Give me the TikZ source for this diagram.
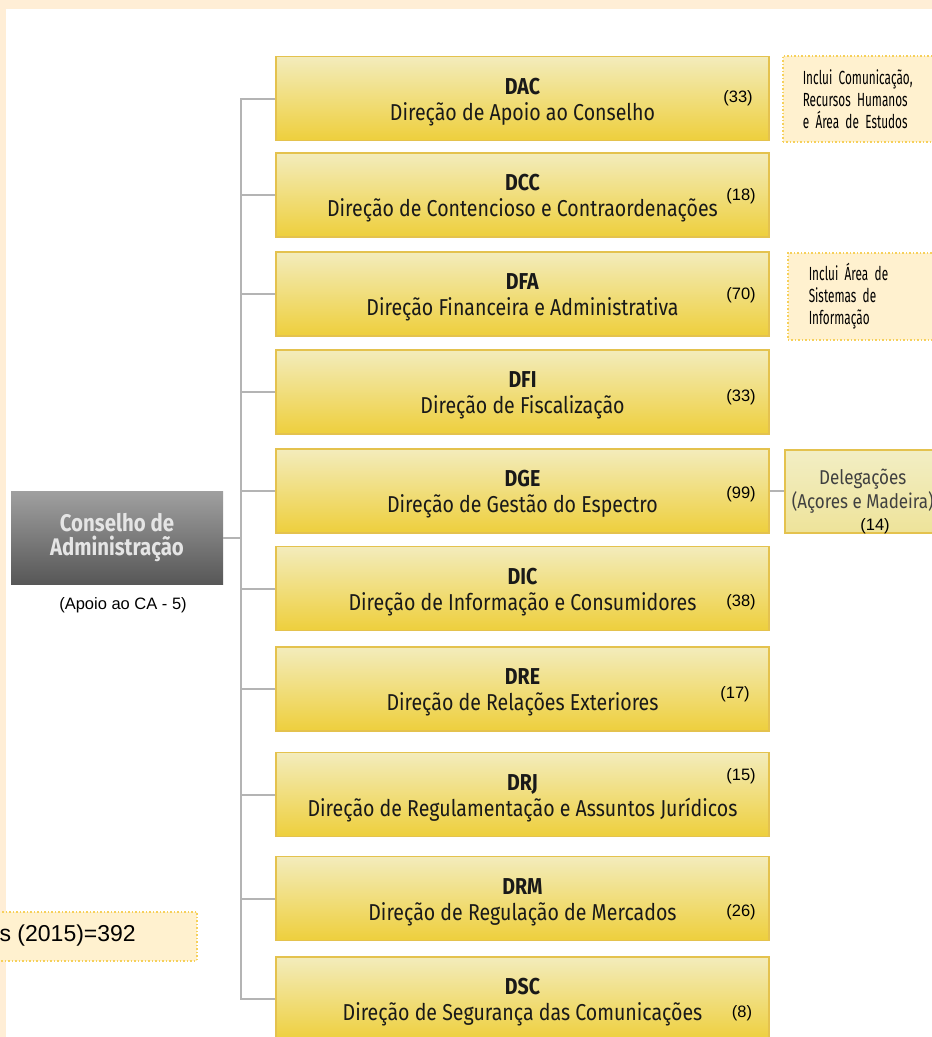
\documentclass[tikz,border=0pt]{standalone}
\usepackage{fontspec}
\setmainfont{Liberation Sans}
\newfontfamily\titlefont[FakeStretch=0.85]{Fira Sans}
\newfontfamily\cafont[FakeStretch=0.85]{Fira Sans}
\newfontfamily\notefont[FakeStretch=0.62]{Fira Sans}
\usetikzlibrary{positioning}

\definecolor{pagecream}{HTML}{FFEED6}
\definecolor{boxtop}{HTML}{F3ECBC}
\definecolor{boxbottom}{HTML}{EECF3C}
\definecolor{boxline}{HTML}{E4C24E}
\definecolor{notefill}{HTML}{FFF1CF}
\definecolor{notedots}{HTML}{F6D05A}
\definecolor{deltop}{HTML}{F2EEC4}
\definecolor{delbottom}{HTML}{EEE39A}
\definecolor{branch}{HTML}{B4B4B4}
\definecolor{catop}{HTML}{A0A0A0}
\definecolor{cabottom}{HTML}{575757}

\tikzset{
  direcao/.style={rectangle, draw=boxline, line width=1.5pt,
    top color=boxtop, bottom color=boxbottom,
    minimum width=493pt, minimum height=84pt, inner sep=0pt,
    text height=50pt, text depth=7pt,
    align=center, text=black!90, font=\titlefont\fontsize{23}{26}\selectfont},
  efectivo/.style={inner sep=0pt, font=\fontsize{16.5}{18}\selectfont},
  nota/.style={rectangle, draw=notedots, dotted, line width=1.5pt, fill=notefill,
    anchor=north west, inner sep=0pt},
  notatexto/.style={nota, align=left, inner xsep=20pt, text width=130pt,
    font=\notefont\fontsize{19}{22}\selectfont},
  ramo/.style={draw=branch, line width=2pt},
}

\begin{document}
\begin{tikzpicture}[x=1pt, y=-1pt]
  \useasboundingbox (0,0) rectangle (932,1037);
  \clip (0,0) rectangle (932,1037);
  \fill[pagecream] (0,0) rectangle (932,1037);
  \fill[white] (6,9) rectangle (932,1037);

  \path (241,0) coordinate (tronco);

  % conselho
  \node[rectangle, top color=catop, bottom color=cabottom, minimum width=212pt,
    minimum height=93pt, inner sep=0pt, align=center, text=white!90!black,
    font=\cafont\bfseries\fontsize{24}{24}\selectfont] (CA) at (117,537.5)
    {Conselho de\\Administração};
  \node[efectivo] (apoio) at (123,605) {(Apoio ao CA - 5)};

  % direcoes
  \node[direcao] (DAC) at (522.5,98.5) {\textbf{DAC}\\Direção de Apoio ao Conselho};
  \node[direcao] (DCC) at (522.5,195) {\textbf{DCC}\\Direção de Contencioso e Contraordenações};
  \node[direcao] (DFA) at (522.5,294) {\textbf{DFA}\\Direção Financeira e Administrativa};
  \node[direcao] (DFI) at (522.5,392) {\textbf{DFI}\\Direção de Fiscalização};
  \node[direcao] (DGE) at (522.5,491) {\textbf{DGE}\\Direção de Gestão do Espectro};
  \node[direcao] (DIC) at (522.5,588.5) {\textbf{DIC}\\Direção de Informação e Consumidores};
  \node[direcao] (DRE) at (522.5,689) {\textbf{DRE}\\Direção de Relações Exteriores};
  \node[direcao] (DRJ) at (522.5,794.5) {\textbf{DRJ}\\Direção de Regulamentação e Assuntos Jurídicos};
  \node[direcao] (DRM) at (522.5,898.5) {\textbf{DRM}\\Direção de Regulação de Mercados};
  \node[direcao] (DSC) at (522.5,999) {\textbf{DSC}\\Direção de Segurança das Comunicações};

  % efectivos
  \node[efectivo] (nDAC) at (738,98) {(33)};
  \node[efectivo] (nDCC) at (741,196) {(18)};
  \node[efectivo] (nDFA) at (741,295) {(70)};
  \node[efectivo] (nDFI) at (741,397) {(33)};
  \node[efectivo] (nDGE) at (741,494) {(99)};
  \node[efectivo] (nDIC) at (741,602) {(38)};
  \node[efectivo] (nDRE) at (735,694) {(17)};
  \node[efectivo] (nDRJ) at (741,776) {(15)};
  \node[efectivo] (nDRM) at (741,912) {(26)};
  \node[efectivo] (nDSC) at (742,1013) {(8)};

  % ramos
  \draw[ramo] (DAC.west) -- (DAC.west -| tronco) -- (DSC.west -| tronco) -- (DSC.west);
  \foreach \d in {DCC,DFA,DFI,DGE,DIC,DRE,DRJ,DRM}
    \draw[ramo] (\d.west) -- (\d.west -| tronco);
  \draw[ramo] (CA.east) -- (CA.east -| tronco);

  % notas
  \node[notatexto, minimum height=86pt] (notaDAC) at (782,55)
    {Inclui Comunicação,\\Recursos Humanos\\e Área de Estudos};
  \node[notatexto, minimum height=87pt, inner xsep=21pt] (notaDFA) at (787,252)
    {Inclui Área de\\Sistemas de\\Informação};

  % delegacoes
  \node[rectangle, draw=boxline, line width=1.5pt, top color=deltop, bottom color=delbottom,
    anchor=north west, minimum width=156pt, minimum height=83pt, inner sep=0pt,
    align=center, text=black!75, font=\titlefont\fontsize{20}{24}\selectfont,
    text depth=4pt] (DEL) at (784,449) {Delegações\\(Açores e Madeira)};
  \node[efectivo] (nDEL) at (875,526) {(14)};
  \draw[ramo] (DGE.east) -- (DGE.east -| DEL.west);

  % total
  \node[nota, minimum width=206pt, minimum height=49pt] (totalbox) at (-10,911) {};
  \node[anchor=east, inner sep=0pt, font=\fontsize{23}{26}\selectfont] (total)
    at (136,935.5) {s (2015)=392};
\end{tikzpicture}
\end{document}
